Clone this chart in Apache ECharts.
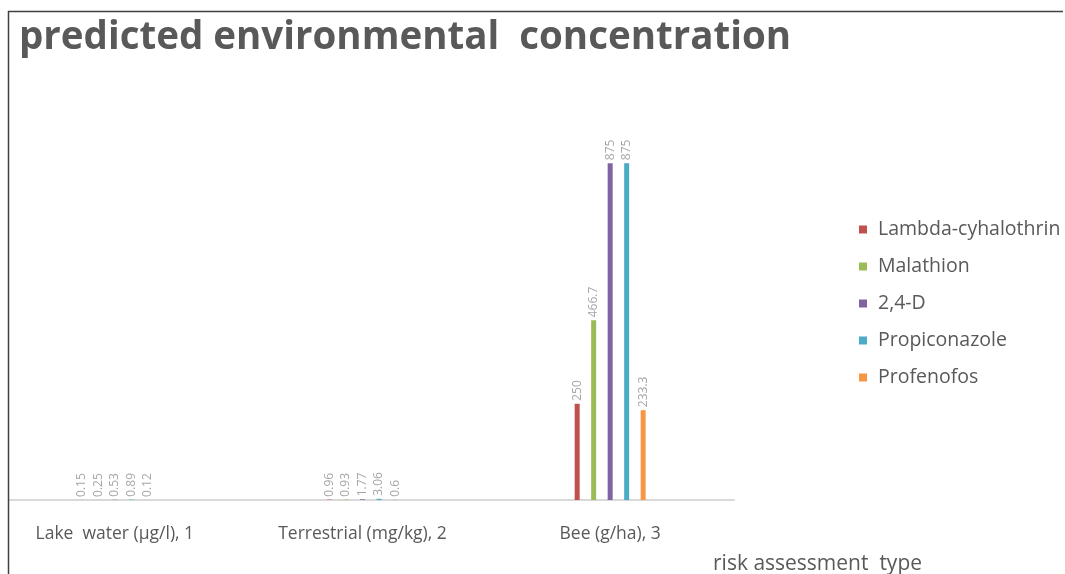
<!DOCTYPE html>
<html>
<head>
<meta charset="utf-8">
<script src="https://cdn.jsdelivr.net/npm/echarts@6/dist/echarts.min.js"></script>
<style>
html,body{margin:0;padding:0;background:#fff;}
#chart{width:1065px;height:574px;}
</style>
</head>
<body>
<div id="chart"></div>
<script>
var categories = ['Lake  water (\u00b5g/l), 1', 'Terrestrial (mg/kg), 2', 'Bee (g/ha), 3'];
var seriesNames = ['Lambda-cyhalothrin', 'Malathion', '2,4-D', 'Propiconazole', 'Profenofos'];
var lambdaVals = [0.15, 0.96, 250];
var malathionVals = [0.25, 0.93, 466.7];
var d24Vals = [0.53, 1.77, 875];
var propiVals = [0.89, 3.06, 875];
var profenoVals = [0.12, 0.6, 233.3];
var colors = ['#c0504d', '#9bbb59', '#8064a2', '#4bacc6', '#f79646'];
var allVals = [lambdaVals, malathionVals, d24Vals, propiVals, profenoVals];

var chart = echarts.init(document.getElementById('chart'));
var series = seriesNames.map(function (n, i) {
  return {
    name: n,
    type: 'bar',
    data: allVals[i],
    barWidth: 5,
    barGap: '230%',
    itemStyle: { color: colors[i] },
    label: {
      show: true,
      position: 'top',
      rotate: 90,
      align: 'left',
      verticalAlign: 'middle',
      distance: 3,
      fontSize: 12,
      fontFamily: 'Open Sans',
      color: '#a6a6a6'
    }
  };
});
chart.setOption({
  animation: false,
  backgroundColor: '#fff',
  title: {
    text: 'predicted environmental  concentration',
    left: 14,
    top: 14,
    textStyle: { fontFamily: 'Open Sans', fontWeight: 'bold', fontSize: 38.5, color: '#595959' }
  },
  legend: {
    orient: 'vertical',
    left: 854,
    top: 214,
    itemWidth: 8,
    itemHeight: 8,
    itemGap: 16,
    icon: 'rect',
    textStyle: { fontFamily: 'Open Sans', fontSize: 19.5, color: '#595959', lineHeight: 21, padding: [0, 0, 0, 6] },
    data: seriesNames
  },
  grid: { left: -9, width: 743, top: 115, bottom: 74, containLabel: false, outerBoundsMode: 'none' },
  xAxis: {
    type: 'category',
    data: categories,
    axisLine: { show: true, lineStyle: { color: '#d9d9d9', width: 2 } },
    axisTick: { show: false },
    axisLabel: { margin: 25, fontFamily: 'Open Sans', fontSize: 17.5, color: '#595959', interval: 0 },
    name: 'risk assessment  type',
    nameLocation: 'end',
    nameGap: -21,
    nameTextStyle: { fontFamily: 'Open Sans', fontSize: 21, color: '#595959', align: 'left', verticalAlign: 'top', padding: [54, 0, 0, 0] }
  },
  yAxis: {
    type: 'value',
    min: 0,
    max: 1000,
    show: false,
    splitLine: { show: false }
  },
  graphic: [
    { type: 'rect', shape: { x: 0, y: 0, width: 8, height: 574 }, style: { fill: '#fff' }, z: 100 },
    { type: 'line', shape: { x1: 8.5, y1: 11, x2: 8.5, y2: 574 }, style: { stroke: '#404040', lineWidth: 1.5 }, z: 101 },
    { type: 'line', shape: { x1: 8, y1: 11.5, x2: 1063, y2: 11.5 }, style: { stroke: '#404040', lineWidth: 1.5 }, z: 101 }
  ],
  series: series
});
</script>
</body>
</html>
